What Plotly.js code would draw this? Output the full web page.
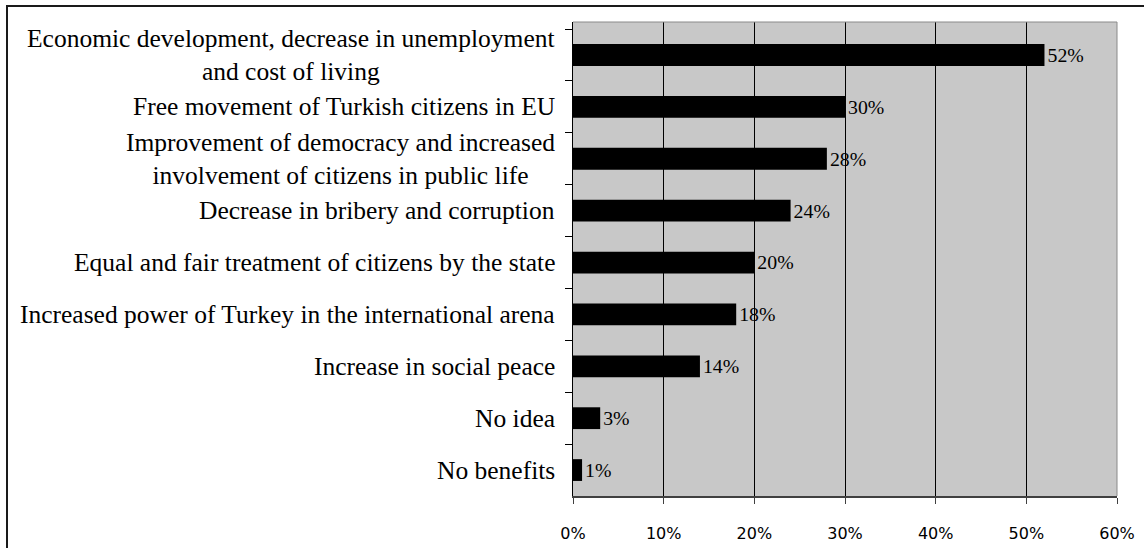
<!DOCTYPE html>
<html><head><meta charset="utf-8">
<script src="https://cdn.plot.ly/plotly-3.0.1.min.js"></script>
<style>
html,body{margin:0;padding:0;background:#fff;overflow:hidden}
#chart{width:1144px;height:548px;position:absolute;left:0;top:0}
#frame{position:absolute;left:6px;top:5px;width:1300px;height:700px;border:2px solid #1a1a1a;pointer-events:none}
</style></head>
<body><div id="chart"></div><div id="frame"></div>
<script>
const categories = [
  "Economic development, decrease in unemployment and cost of living",
  "Free movement of Turkish citizens in EU",
  "Improvement of democracy and increased involvement of citizens in public life",
  "Decrease in bribery and corruption",
  "Equal and fair treatment of citizens by the state",
  "Increased power of Turkey in the international arena",
  "Increase in social peace",
  "No idea",
  "No benefits"
];
const categoryLabels = [
  "Economic development, decrease in unemployment<br>and cost of living",
  "Free movement of Turkish citizens in EU",
  "Improvement of democracy and increased<br>involvement of citizens in public life",
  "Decrease in bribery and corruption",
  "Equal and fair treatment of citizens by the state",
  "Increased power of Turkey in the international arena",
  "Increase in social peace",
  "No idea",
  "No benefits"
];
const values = [52, 30, 28, 24, 20, 18, 14, 3, 1];
const valueLabels = values.map(v => v + "%");
const xTickValues = [0, 10, 20, 30, 40, 50, 60];
const xTickLabels = ["0%", "10%", "20%", "30%", "40%", "50%", "60%"];

const serif = "Liberation Serif, Times New Roman, serif";

const trace = {
  type: "bar",
  orientation: "h",
  x: values,
  y: categories,
  marker: {color: "#000000", line: {width: 0}},
  text: valueLabels,
  textposition: "outside",
  textfont: {family: serif, size: 20, color: "#000"},
  cliponaxis: false,
  hoverinfo: "none"
};

const annotations = categoryLabels.map((lab, i) => ({
  x: 0, xref: "paper", xanchor: "right", xshift: -16,
  y: categories[i], yref: "y", yanchor: "middle",
  text: lab, align: "center", showarrow: false,
  font: {family: serif, size: 25.5, color: "#000"}
}));

const layout = {
  width: 1144, height: 548,
  margin: {l: 573, r: 27, t: 22, b: 52, pad: 0},
  paper_bgcolor: "rgba(0,0,0,0)",
  plot_bgcolor: "#c8c8c8",
  showlegend: false,
  bargap: 0.58,
  xaxis: {
    range: [0, 60],
    tickmode: "array", tickvals: xTickValues, ticktext: xTickLabels,
    showgrid: true, gridcolor: "#000", gridwidth: 1,
    zeroline: false,
    showline: true, linecolor: "#404040", linewidth: 2,
    ticks: "outside", ticklen: 6, tickcolor: "#404040", tickwidth: 1,
    ticklabelstandoff: 16,
    tickfont: {family: "DejaVu Sans, sans-serif", size: 16, color: "#000"},
    fixedrange: true
  },
  yaxis: {
    type: "category",
    autorange: "reversed",
    showticklabels: false,
    ticks: "outside", tickson: "boundaries", ticklen: 7, tickcolor: "#000", tickwidth: 1,
    showline: true, linecolor: "#000", linewidth: 1,
    showgrid: false, zeroline: false,
    fixedrange: true
  },
  annotations: annotations,
  shapes: [
    {type: "line", xref: "paper", yref: "paper", x0: 0, x1: 1, y0: 1, y1: 1, line: {color: "#8a8a8a", width: 1}},
    {type: "line", xref: "paper", yref: "paper", x0: 1, x1: 1, y0: 0, y1: 1, line: {color: "#8a8a8a", width: 1}}
  ]
};

Plotly.newPlot("chart", [trace], layout, {displayModeBar: false, staticPlot: true});
</script>
</body></html>
